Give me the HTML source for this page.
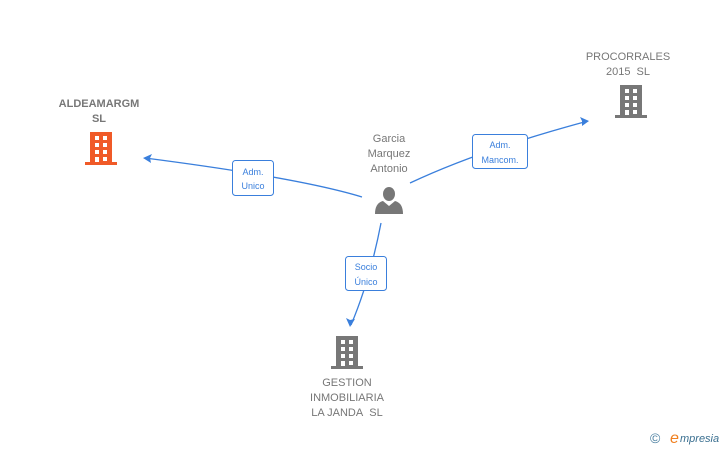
<!DOCTYPE html>
<html><head><style>
body{margin:0;background:#fff;}
svg{display:block;font-family:"Liberation Sans",sans-serif;}
</style></head><body>
<svg width="728" height="450" viewBox="0 0 728 450">
<defs>
<g id="bld">
<rect x="5" y="0" width="22" height="32"/>
<rect x="0" y="30" width="32" height="3"/>
</g>
<g id="win" fill="#fff">
<rect x="10" y="4" width="4" height="4"/><rect x="18" y="4" width="4" height="4"/>
<rect x="10" y="11" width="4" height="4"/><rect x="18" y="11" width="4" height="4"/>
<rect x="10" y="18" width="4" height="4"/><rect x="18" y="18" width="4" height="4"/>
<rect x="10" y="25" width="4" height="5"/><rect x="18" y="25" width="4" height="4"/>
</g>
</defs>
<g stroke="#3a7fdc" stroke-width="1.3" fill="none">
<path d="M362,197 Q300,178 145,158"/>
<path d="M410,183 Q480,150 588,121"/>
<path d="M381,223 Q370,280 351,325"/>
</g>
<g fill="#3a7fdc">
<path d="M143,158 L152,154 L150,158 L151,163 Z"/>
<path d="M589,121 L580,117 L582,121 L582,126 Z"/>
<path d="M350,327 L346,318 L350,320 L355,319 Z"/>
</g>
<g fill="#fff" stroke="#3a7fdc" stroke-width="1">
<rect x="232.5" y="160.5" width="41" height="35" rx="3"/>
<rect x="472.5" y="134.5" width="55" height="34" rx="3"/>
<rect x="345.5" y="256.5" width="41" height="34" rx="3"/>
</g>
<g fill="#3a7fdc" font-size="9" text-anchor="middle">
<text x="253" y="175">Adm.</text><text x="253" y="189">Unico</text>
<text x="500" y="148">Adm.</text><text x="500" y="163">Mancom.</text>
<text x="366" y="270">Socio</text><text x="366" y="285">Único</text>
</g>
<g fill="#f05a28"><use href="#bld" x="85" y="132"/></g>
<use href="#win" x="85" y="132"/>
<g fill="#777"><use href="#bld" x="615" y="85"/><use href="#bld" x="331" y="336"/></g>
<use href="#win" x="615" y="85"/>
<use href="#win" x="331" y="336"/>
<g fill="#777">
<ellipse cx="389" cy="194" rx="6" ry="7"/>
<path d="M375,214 Q375,203 383,201 L389,206 L395,201 Q403,203 403,214 Z"/>
</g>
<g font-size="11" fill="#777" text-anchor="middle">
<text x="99" y="107" font-weight="bold">ALDEAMARGM</text>
<text x="99" y="122" font-weight="bold">SL</text>
<text x="389" y="142">Garcia</text>
<text x="389" y="157">Marquez</text>
<text x="389" y="172">Antonio</text>
<text x="628" y="60">PROCORRALES</text>
<text x="628" y="75">2015&#160;&#160;SL</text>
<text x="347" y="386">GESTION</text>
<text x="347" y="401">INMOBILIARIA</text>
<text x="347" y="416">LA JANDA&#160;&#160;SL</text>
</g>
<text x="650" y="443" font-size="14" fill="#4a7fa0">©</text>
<text x="670" y="443" font-size="16" font-style="italic" fill="#f08020">e</text>
<text x="680" y="442" font-size="11" font-style="italic" fill="#3a6f90">mpresia</text>
</svg>
</body></html>
